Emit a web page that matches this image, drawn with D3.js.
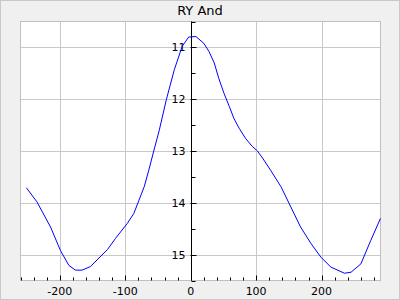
<!DOCTYPE html>
<html>
<head>
<meta charset="utf-8">
<script src="https://cdn.jsdelivr.net/npm/d3@7"></script>
<style>
body { margin: 0; background: #f0f0f0; }
svg { display: block; font-family: "DejaVu Sans", sans-serif; }
</style>
</head>
<body>
<div id="chart"></div>
<script>
var width = 400, height = 300;
var margin = { left: 20.5, top: 21.5, right: 19.5, bottom: 19.5 };

var title = 'RY And';
var phase = [-251, -235, -214, -199, -186, -176, -166, -153, -127, -115, -97, -87, -79, -71, -64, -56, -48, -37, -25, -13,
    -3, 8, 20, 28, 36, 43, 51, 59, 66, 74, 84, 94, 102, 110, 122, 138, 153, 168, 184, 199, 214, 235, 245, 260, 275, 290];
var mag = [13.71, 13.98, 14.47, 14.92, 15.21, 15.30, 15.30, 15.23, 14.90, 14.69, 14.40, 14.21, 13.95, 13.69, 13.37, 12.98, 12.60, 12.00, 11.43, 10.98,
    10.80, 10.79, 10.92, 11.08, 11.30, 11.60, 11.89, 12.14, 12.37, 12.56, 12.76, 12.91, 13.00, 13.14, 13.37, 13.69, 14.08, 14.47, 14.79, 15.05,
    15.24, 15.36, 15.34, 15.18, 14.73, 14.30];
var xTicks = [-200, -100, 0, 100, 200];
var yTicks = [11, 12, 13, 14, 15];

var svg = d3.select('#chart').append('svg')
    .attr('width', width)
    .attr('height', height);

svg.append('rect')
    .attr('x', 0.5).attr('y', 0.5)
    .attr('width', width - 1).attr('height', height - 1)
    .style('fill', '#f0f0f0')
    .style('stroke', '#c8c8c8');

var x = d3.scaleLinear().domain([-260, 290]).range([margin.left, width - margin.right]);
var y = d3.scaleLinear().domain([10.5, 15.5]).range([margin.top, height - margin.bottom]);

svg.append('rect')
    .attr('x', x.range()[0]).attr('y', y.range()[0])
    .attr('width', x.range()[1] - x.range()[0])
    .attr('height', y.range()[1] - y.range()[0])
    .style('fill', 'white');

// grid
svg.selectAll('.vgrid').data(xTicks.filter(function (d) { return d != 0; })).enter()
    .append('line')
    .attr('x1', function (d) { return Math.round(x(d)) + 0.5; })
    .attr('x2', function (d) { return Math.round(x(d)) + 0.5; })
    .attr('y1', y.range()[0]).attr('y2', y.range()[1])
    .style('stroke', '#c8c8c8');
svg.selectAll('.hgrid').data(yTicks).enter()
    .append('line')
    .attr('x1', x.range()[0]).attr('x2', x.range()[1])
    .attr('y1', function (d) { return Math.round(y(d)) + 0.5; })
    .attr('y2', function (d) { return Math.round(y(d)) + 0.5; })
    .style('stroke', '#c8c8c8');

svg.append('rect')
    .attr('x', x.range()[0]).attr('y', y.range()[0])
    .attr('width', x.range()[1] - x.range()[0])
    .attr('height', y.range()[1] - y.range()[0])
    .style('fill', 'none')
    .style('stroke', '#c0c0c0');

// x ticks along bottom, pointing up
var xb = y.range()[1];
var minorX = d3.range(-260, 291, 20).filter(function (d) { return d % 100 != 0; });
svg.selectAll('.xminor').data(minorX).enter().append('line')
    .attr('x1', function (d) { return Math.round(x(d)) + 0.5; })
    .attr('x2', function (d) { return Math.round(x(d)) + 0.5; })
    .attr('y1', xb).attr('y2', xb - 3)
    .style('stroke', 'black');
svg.selectAll('.xmajor').data(xTicks).enter().append('line')
    .attr('x1', function (d) { return Math.round(x(d)) + 0.5; })
    .attr('x2', function (d) { return Math.round(x(d)) + 0.5; })
    .attr('y1', xb).attr('y2', xb - 5)
    .style('stroke', 'black');
svg.selectAll('.xlabel').data(xTicks).enter().append('text')
    .attr('x', function (d) { return x(d); })
    .attr('y', xb + 14)
    .attr('text-anchor', 'middle')
    .style('font-size', '11px')
    .text(function (d) { return d; });

// y axis at x = 0
var ax = Math.round(x(0)) + 0.5;
svg.append('line')
    .attr('x1', ax).attr('x2', ax)
    .attr('y1', y.range()[0]).attr('y2', y.range()[1])
    .style('stroke', 'black');
svg.selectAll('.yminor').data(d3.range(10.5, 15.51, 1)).enter().append('line')
    .attr('x1', ax).attr('x2', ax + 4)
    .attr('y1', function (d) { return Math.round(y(d)) + 0.5; })
    .attr('y2', function (d) { return Math.round(y(d)) + 0.5; })
    .style('stroke', 'black');
svg.selectAll('.ymajor').data(yTicks).enter().append('line')
    .attr('x1', ax - 1).attr('x2', ax + 5)
    .attr('y1', function (d) { return Math.round(y(d)) + 0.5; })
    .attr('y2', function (d) { return Math.round(y(d)) + 0.5; })
    .style('stroke', 'black');
svg.selectAll('.ylabel').data(yTicks).enter().append('text')
    .attr('x', ax - 6)
    .attr('y', function (d) { return y(d) + 4; })
    .attr('text-anchor', 'end')
    .style('font-size', '11px')
    .text(function (d) { return d; });

// light curve
var line = d3.line()
    .x(function (d, i) { return x(phase[i]); })
    .y(function (d) { return y(d); });
svg.append('path')
    .datum(mag)
    .attr('d', line)
    .style('fill', 'none')
    .style('stroke', 'blue')
    .style('stroke-width', 1);

svg.append('text')
    .attr('x', width / 2)
    .attr('y', 15)
    .attr('text-anchor', 'middle')
    .style('font-size', '13px')
    .text(title);
</script>
</body>
</html>
